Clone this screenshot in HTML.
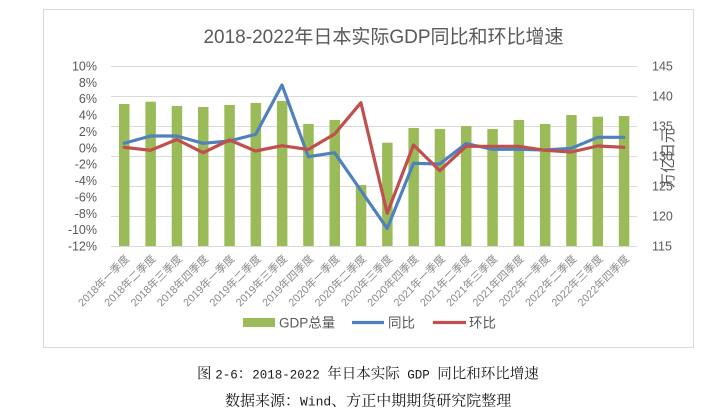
<!DOCTYPE html>
<html>
<head>
<meta charset="utf-8">
<style>
html,body{margin:0;padding:0;background:#fff;}
svg{display:block;}
</style>
</head>
<body>
<svg width="720" height="412" viewBox="0 0 720 412" xmlns="http://www.w3.org/2000/svg">
<rect x="0" y="0" width="720" height="412" fill="#fff"/>
<rect x="43.5" y="9.5" width="650" height="338" fill="#fff" stroke="#d9d9d9" stroke-width="1"/>

<text x="383.5" y="43" text-anchor="middle" font-family="'Liberation Sans','Noto Sans CJK SC',sans-serif" font-size="19" fill="#595959">2018-2022年日本实际GDP同比和环比增速</text>

<g stroke="#d9d9d9" stroke-width="1">
<line x1="111" y1="66.5" x2="637" y2="66.5"/>
<line x1="111" y1="96.5" x2="637" y2="96.5"/>
<line x1="111" y1="126.5" x2="637" y2="126.5"/>
<line x1="111" y1="156.5" x2="637" y2="156.5"/>
<line x1="111" y1="186.5" x2="637" y2="186.5"/>
<line x1="111" y1="216.5" x2="637" y2="216.5"/>
<line x1="111" y1="246.5" x2="637" y2="246.5"/>
</g>

<g font-family="'Liberation Sans',sans-serif" font-size="12.5" fill="#595959" text-anchor="end">
<text x="97" y="70.5">10%</text>
<text x="97" y="86.9">8%</text>
<text x="97" y="103.2">6%</text>
<text x="97" y="119.6">4%</text>
<text x="97" y="136">2%</text>
<text x="97" y="152.3">0%</text>
<text x="97" y="168.7">-2%</text>
<text x="97" y="185">-4%</text>
<text x="97" y="201.4">-6%</text>
<text x="97" y="217.8">-8%</text>
<text x="97" y="234.1">-10%</text>
<text x="97" y="250.5">-12%</text>
</g>
<g font-family="'Liberation Sans',sans-serif" font-size="12.5" fill="#595959">
<text x="652" y="70.5">145</text>
<text x="652" y="100.5">140</text>
<text x="652" y="130.5">135</text>
<text x="652" y="160.5">130</text>
<text x="652" y="190.5">125</text>
<text x="652" y="220.5">120</text>
<text x="652" y="250.5">115</text>
</g>
<text transform="translate(673,158) rotate(-90)" text-anchor="middle" font-family="'Liberation Sans','Noto Sans CJK SC',sans-serif" font-size="15" fill="#595959">万亿日元</text>

<g fill="#9bbb59">
<rect x="119" y="104" width="10.5" height="142"/>
<rect x="145.4" y="101.7" width="10.5" height="144.3"/>
<rect x="171.7" y="106" width="10.5" height="140"/>
<rect x="198" y="107" width="10.5" height="139"/>
<rect x="224.3" y="105" width="10.5" height="141"/>
<rect x="250.6" y="103" width="10.5" height="143"/>
<rect x="276.9" y="101" width="10.5" height="145"/>
<rect x="303.2" y="124" width="10.5" height="122"/>
<rect x="329.5" y="120" width="10.5" height="126"/>
<rect x="355.8" y="185" width="10.5" height="61"/>
<rect x="382.1" y="142.7" width="10.5" height="103.3"/>
<rect x="408.4" y="128" width="10.5" height="118"/>
<rect x="434.7" y="129" width="10.5" height="117"/>
<rect x="461" y="126" width="10.5" height="120"/>
<rect x="487.3" y="129" width="10.5" height="117"/>
<rect x="513.6" y="120" width="10.5" height="126"/>
<rect x="539.9" y="124" width="10.5" height="122"/>
<rect x="566.2" y="115" width="10.5" height="131"/>
<rect x="592.5" y="116.7" width="10.5" height="129.3"/>
<rect x="618.8" y="116" width="10.5" height="130"/>
</g>

<polyline fill="none" stroke="#4f81bd" stroke-width="3.2" stroke-linejoin="round" stroke-linecap="round"
points="124.2,143.3 150.5,136 176.8,136 203.1,143.3 229.4,141 255.7,134.3 282,85 308.3,156.7 334.6,152.7 360.9,190.5 387.2,228.5 413.5,163.3 439.8,164 466.1,143.5 492.4,149.3 518.7,149.3 545,150 571.3,148.3 597.6,137.3 623.9,137.3"/>
<polyline fill="none" stroke="#c0504d" stroke-width="3.2" stroke-linejoin="round" stroke-linecap="round"
points="124.2,147.3 150.5,150.3 176.8,139.5 203.1,152.7 229.4,140 255.7,151 282,145.7 308.3,149.5 334.6,134 360.9,102.7 387.2,213.3 413.5,145 439.8,170.7 466.1,146.3 492.4,146.3 518.7,146.3 545,150.3 571.3,152 597.6,146 623.9,147.3"/>

<g font-family="'Liberation Sans','Noto Sans CJK SC',sans-serif" font-size="10.8" fill="#8a8a8a" text-anchor="end">
<text transform="translate(130,259.5) rotate(-45)">2018年一季度</text>
<text transform="translate(156.3,259.5) rotate(-45)">2018年二季度</text>
<text transform="translate(182.6,259.5) rotate(-45)">2018年三季度</text>
<text transform="translate(208.9,259.5) rotate(-45)">2018年四季度</text>
<text transform="translate(235.2,259.5) rotate(-45)">2019年一季度</text>
<text transform="translate(261.5,259.5) rotate(-45)">2019年二季度</text>
<text transform="translate(287.8,259.5) rotate(-45)">2019年三季度</text>
<text transform="translate(314.1,259.5) rotate(-45)">2019年四季度</text>
<text transform="translate(340.4,259.5) rotate(-45)">2020年一季度</text>
<text transform="translate(366.7,259.5) rotate(-45)">2020年二季度</text>
<text transform="translate(393,259.5) rotate(-45)">2020年三季度</text>
<text transform="translate(419.3,259.5) rotate(-45)">2020年四季度</text>
<text transform="translate(445.6,259.5) rotate(-45)">2021年一季度</text>
<text transform="translate(471.9,259.5) rotate(-45)">2021年二季度</text>
<text transform="translate(498.2,259.5) rotate(-45)">2021年三季度</text>
<text transform="translate(524.5,259.5) rotate(-45)">2021年四季度</text>
<text transform="translate(550.8,259.5) rotate(-45)">2022年一季度</text>
<text transform="translate(577.1,259.5) rotate(-45)">2022年二季度</text>
<text transform="translate(603.4,259.5) rotate(-45)">2022年三季度</text>
<text transform="translate(629.7,259.5) rotate(-45)">2022年四季度</text>
</g>

<rect x="243" y="318" width="32" height="9" fill="#9bbb59"/>
<line x1="352" y1="322.5" x2="384" y2="322.5" stroke="#4f81bd" stroke-width="3.2"/>
<line x1="433" y1="322.5" x2="466" y2="322.5" stroke="#c0504d" stroke-width="3.2"/>
<g font-family="'Liberation Sans','Noto Sans CJK SC',sans-serif" font-size="13.5" fill="#595959">
<text x="279" y="327.5">GDP总量</text>
<text x="388" y="327.5">同比</text>
<text x="469" y="327.5">环比</text>
</g>

<text x="197" y="378.5" font-family="'Noto Serif CJK SC','Noto Sans CJK SC',serif" font-size="14.5" fill="#1a1a1a">图 <tspan font-family="'Liberation Mono',monospace" font-size="12.5">2-6</tspan>：<tspan font-family="'Liberation Mono',monospace" font-size="12.5">2018-2022 </tspan>年日本实际<tspan font-family="'Liberation Mono',monospace" font-size="12.5"> GDP </tspan>同比和环比增速</text>
<text x="225" y="405.5" font-family="'Noto Serif CJK SC','Noto Sans CJK SC',serif" font-size="15" fill="#1a1a1a">数据来源：<tspan font-family="'Liberation Mono',monospace" font-size="13">Wind</tspan>、方正中期期货研究院整理</text>
</svg>
</body>
</html>
